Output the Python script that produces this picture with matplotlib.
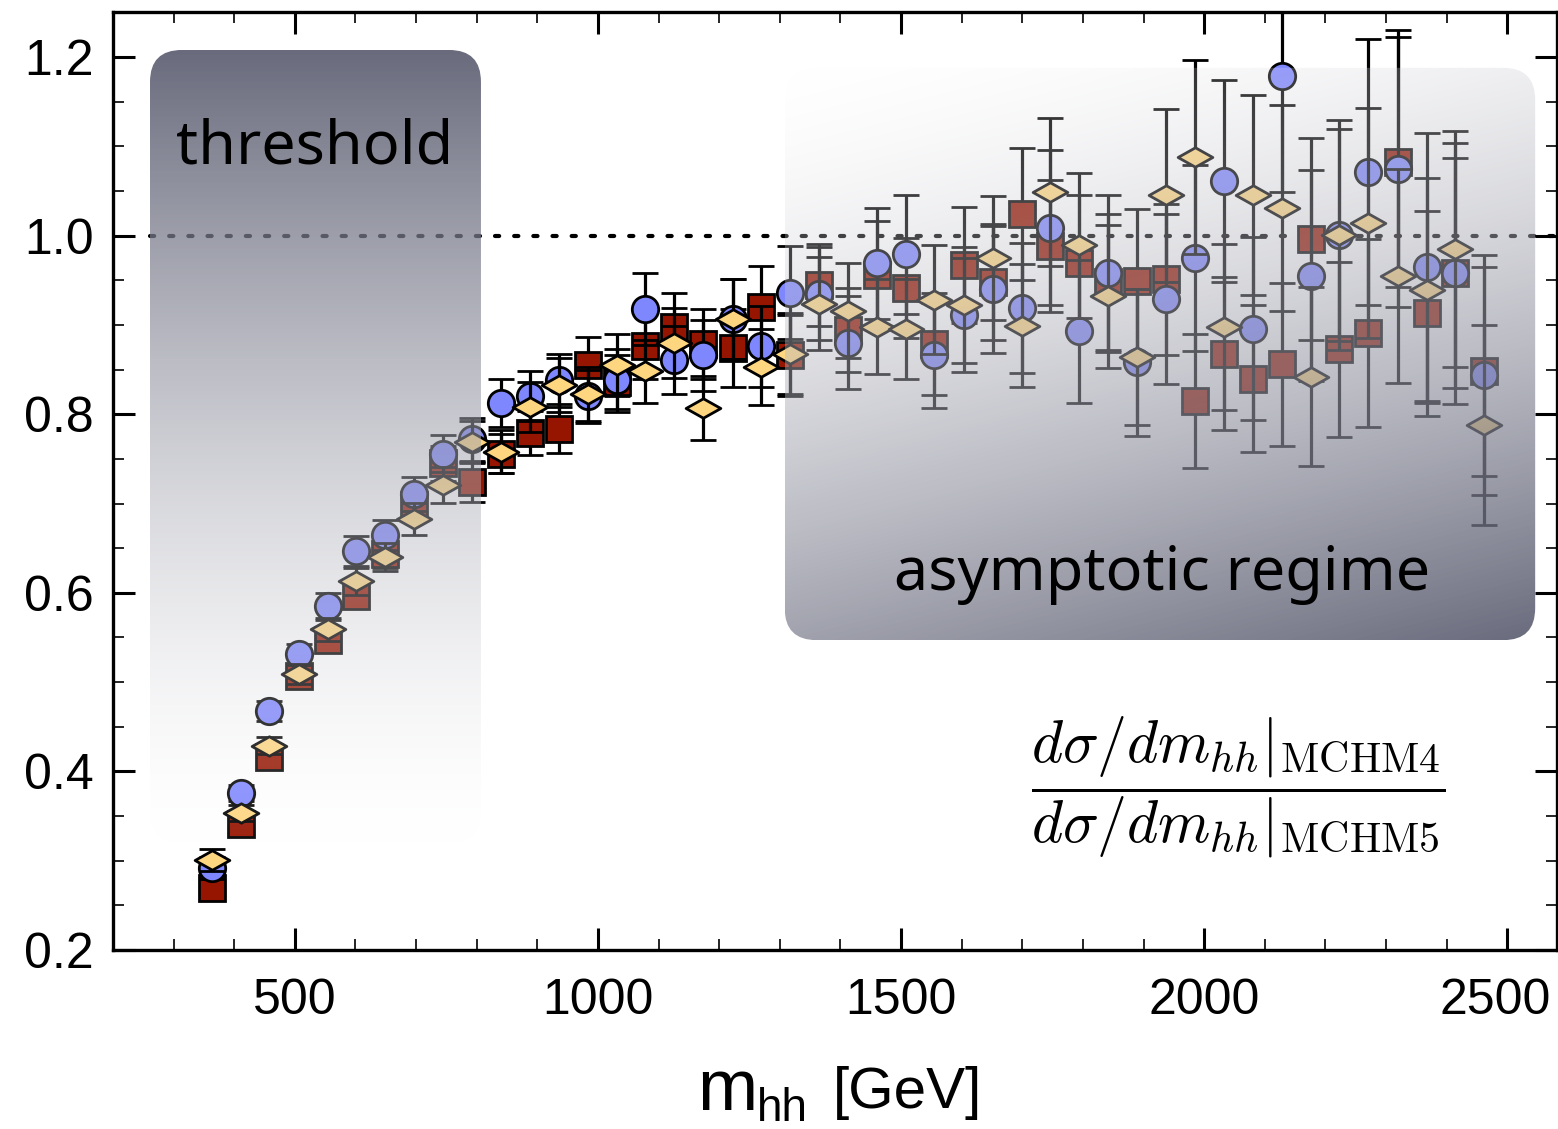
import numpy as np
import matplotlib
matplotlib.use("Agg")
import matplotlib.pyplot as plt
from matplotlib.patches import FancyBboxPatch
from matplotlib.path import Path
from matplotlib.transforms import IdentityTransform, ScaledTranslation
from matplotlib.ticker import MultipleLocator, FormatStrFormatter

# ---------------- data ----------------
m_hh = [363, 411, 458, 506, 554, 601, 649, 697, 745, 792,
        840, 888, 935, 983, 1031, 1078, 1126, 1174, 1222, 1269,
        1317, 1365, 1412, 1460, 1508, 1555, 1603, 1651, 1699, 1746,
        1794, 1842, 1889, 1937, 1985, 2033, 2080, 2128, 2176, 2223,
        2271, 2319, 2367, 2414, 2462]

ratio_circle = [0.292, 0.376, 0.468, 0.531, 0.585, 0.647, 0.665, 0.711, 0.756, 0.772,
                0.813, 0.821, 0.838, 0.820, 0.838, 0.918, 0.861, 0.866, 0.907, 0.876,
                0.936, 0.935, 0.880, 0.969, 0.979, 0.866, 0.911, 0.940, 0.919, 1.009,
                0.893, 0.958, 0.858, 0.929, 0.975, 1.061, 0.896, 1.179, 0.955, 1.001,
                1.071, 1.075, 0.965, 0.958, 0.844]
err_circle = [0.012, 0.009, 0.011, 0.012, 0.015, 0.017, 0.017, 0.019, 0.021, 0.024,
              0.027, 0.028, 0.030, 0.030, 0.035, 0.040, 0.038, 0.040, 0.045, 0.045,
              0.052, 0.052, 0.052, 0.062, 0.067, 0.059, 0.064, 0.071, 0.073, 0.087,
              0.080, 0.088, 0.082, 0.095, 0.104, 0.113, 0.102, 0.130, 0.118, 0.129,
              0.149, 0.155, 0.150, 0.146, 0.134]

ratio_square = [0.269, 0.341, 0.416, 0.507, 0.547, 0.596, 0.643, 0.698, 0.745, 0.724,
                0.756, 0.779, 0.784, 0.855, 0.836, 0.877, 0.898, 0.879, 0.874, 0.920,
                0.866, 0.945, 0.894, 0.956, 0.941, 0.879, 0.967, 0.948, 1.024, 0.988,
                0.969, 0.948, 0.949, 0.951, 0.815, 0.868, 0.840, 0.856, 0.996, 0.873,
                0.891, 1.082, 0.913, 0.958, 0.848]
err_square = [0.010, 0.008, 0.010, 0.010, 0.011, 0.012, 0.015, 0.017, 0.020, 0.022,
              0.022, 0.025, 0.027, 0.031, 0.030, 0.038, 0.038, 0.039, 0.044, 0.046,
              0.045, 0.046, 0.047, 0.060, 0.056, 0.057, 0.065, 0.065, 0.074, 0.074,
              0.076, 0.076, 0.081, 0.085, 0.075, 0.086, 0.082, 0.091, 0.113, 0.098,
              0.105, 0.140, 0.115, 0.129, 0.117]

ratio_diamond = [0.301, 0.353, 0.429, 0.509, 0.559, 0.613, 0.640, 0.683, 0.721, 0.769,
                 0.758, 0.808, 0.833, 0.823, 0.855, 0.848, 0.880, 0.807, 0.907, 0.853,
                 0.868, 0.924, 0.916, 0.898, 0.895, 0.928, 0.922, 0.975, 0.899, 1.049,
                 0.989, 0.932, 0.864, 1.045, 1.088, 0.898, 1.045, 1.031, 0.842, 1.001,
                 1.014, 0.955, 0.939, 0.985, 0.788]
err_diamond = [0.012, 0.009, 0.010, 0.011, 0.013, 0.015, 0.016, 0.018, 0.020, 0.024,
               0.024, 0.028, 0.030, 0.030, 0.035, 0.035, 0.039, 0.036, 0.045, 0.043,
               0.045, 0.052, 0.053, 0.053, 0.056, 0.061, 0.065, 0.069, 0.069, 0.083,
               0.081, 0.080, 0.076, 0.097, 0.109, 0.093, 0.112, 0.115, 0.100, 0.119,
               0.129, 0.120, 0.126, 0.132, 0.112]

x_ticks = [500, 1000, 1500, 2000, 2500]
y_ticks = [0.2, 0.4, 0.6, 0.8, 1.0, 1.2]

# ---------------- style ----------------
plt.rcParams['font.family'] = ['Liberation Sans', 'DejaVu Sans']
plt.rcParams['mathtext.fontset'] = 'cm'

W, H = 1558, 1129
fig = plt.figure(figsize=(W / 100, H / 100), dpi=100)
ax = fig.add_axes([113 / W, 1 - 950 / H, 1444 / W, 938 / H])
XMIN, XMAX, YMIN, YMAX = 200, 2582, 0.2, 1.2505
ax.set_xlim(XMIN, XMAX)
ax.set_ylim(YMIN, YMAX)
ax.set_autoscale_on(False)

# reference line
ax.plot([261, XMAX], [1.0, 1.0], color='black', lw=3.0,
        linestyle=(0, (1.0, 3.6)), dash_capstyle='round', zorder=1)

diamond = Path([(-1, 0), (0, 0.56), (1, 0), (0, -0.56), (-1, 0)],
               [Path.MOVETO, Path.LINETO, Path.LINETO, Path.LINETO, Path.CLOSEPOLY])

common = dict(ls='none', ecolor='black', elinewidth=2.3, capsize=9.5,
              capthick=2.3, mec='black', mew=2.0)
ax.errorbar(m_hh, ratio_square, yerr=err_square, marker='s', ms=18.5,
            mfc='#961500', zorder=3, **common)
ax.errorbar(m_hh, ratio_circle, yerr=err_circle, marker='o', ms=19,
            mfc='#7f87ff', zorder=4, **common)
ax.errorbar(m_hh, ratio_diamond, yerr=err_diamond, marker=diamond, ms=25,
            mfc='#ffd680', zorder=5, **common)

# ---------------- gradient boxes ----------------
tint = np.array([150, 148, 130]) / 255.0   # how far white is darkened at full strength


def gradient_box(x0, x1, y0, y1, t_fn, radius_px=32):
    n = 300
    X, Y = np.meshgrid(np.linspace(0, 1, n), np.linspace(0, 1, n))
    t = np.clip(t_fn(X, Y), 0, 1)
    a = 0.05 + 0.85 * t ** 0.8
    dark = (t ** 1.6)[..., None] * tint          # 1 - background seen over white
    col = 1.0 - dark / a[..., None]
    img = np.zeros((n, n, 4))
    img[..., :3] = np.clip(col, 0, 1)
    img[..., 3] = a
    im = ax.imshow(img, extent=[x0, x1, y0, y1], origin='lower',
                   aspect='auto', zorder=6, interpolation='bilinear')
    p0 = ax.transData.transform((x0, y0))
    p1 = ax.transData.transform((x1, y1))
    patch = FancyBboxPatch((p0[0], p0[1]), p1[0] - p0[0], p1[1] - p0[1],
                           boxstyle=f"round,pad=0,rounding_size={radius_px}",
                           transform=IdentityTransform(),
                           facecolor='none', edgecolor='none')
    im.set_clip_path(patch)


gradient_box(261, 807, 0.32, 1.208, lambda X, Y: Y)
gradient_box(1308, 2546, 0.547, 1.188,
             lambda X, Y: 0.75 * (1 - Y) + 0.25 * X)

ax.set_xlim(XMIN, XMAX)
ax.set_ylim(YMIN, YMAX)

# ---------------- texts ----------------
ax.text(533, 1.081, 'threshold', ha='center', va='baseline', fontsize=44,
        family=['Noto Sans', 'DejaVu Sans'], zorder=8)
ax.text(1931, 0.603, 'asymptotic regime', ha='center', va='baseline',
        fontsize=44, family=['Noto Sans', 'DejaVu Sans'], zorder=8)
ax.text(2056, 0.382,
        r'$\dfrac{d\sigma/dm_{hh}|_{\rm MCHM4}}{d\sigma/dm_{hh}|_{\rm MCHM5}}$',
        ha='center', va='center', fontsize=43, zorder=8)

# ---------------- axes styling ----------------
ax.set_xticks(x_ticks)
ax.set_yticks(y_ticks)
ax.xaxis.set_minor_locator(MultipleLocator(100))
ax.yaxis.set_minor_locator(MultipleLocator(0.05))
ax.yaxis.set_major_formatter(FormatStrFormatter('%.1f'))
ax.tick_params(which='both', direction='in', top=True, right=True)
ax.tick_params(which='major', length=16, width=2.2, labelsize=36)
ax.tick_params(which='minor', length=8, width=1.2)
ax.tick_params(axis='x', which='major', pad=20)
ax.tick_params(axis='y', which='major', pad=14)
for s in ax.spines.values():
    s.set_linewidth(2.4)

# keep the last x tick label inside the figure, as in the reference
last_lbl = ax.xaxis.get_major_ticks()[-1].label1
last_lbl.set_transform(last_lbl.get_transform() +
                       ScaledTranslation(-0.12, 0, fig.dpi_scale_trans))

# x label built from parts
fig.text(697 / W, 1 - 1110 / H, 'm', fontsize=52, ha='left', va='baseline')
fig.text(757 / W, 1 - 1121 / H, 'hh', fontsize=33, ha='left', va='baseline')
fig.text(833 / W, 1 - 1108 / H, '[GeV]', fontsize=42, ha='left', va='baseline')

fig.savefig('out.png', dpi=100)
